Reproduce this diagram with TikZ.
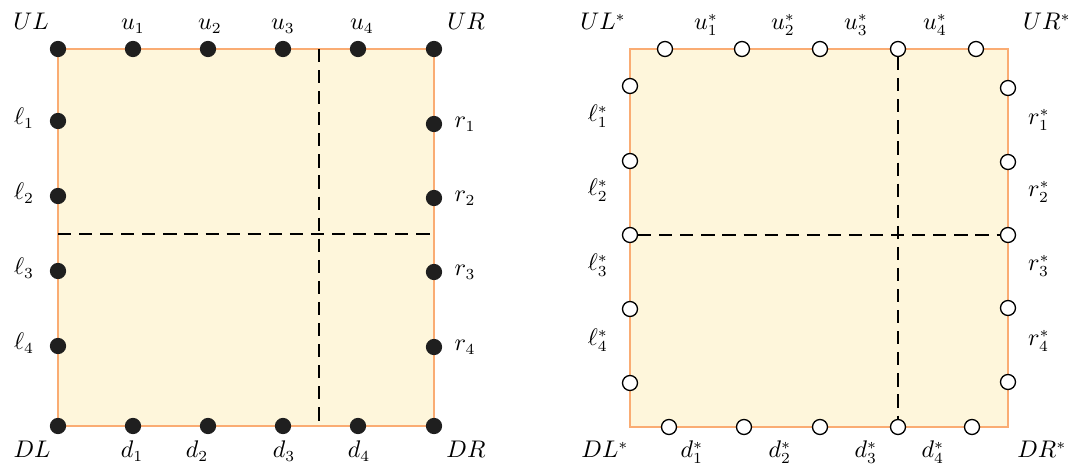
\documentclass[tikz,border=0pt]{standalone}
\definecolor{boxfill}{RGB}{254,246,219}
\definecolor{boxedge}{RGB}{250,172,115}
\begin{document}
\begin{tikzpicture}[x=0.016cm,y=-0.016cm,
  filled/.style={circle,fill=black!88,inner sep=0pt,minimum size=0.26cm},
  hollow/.style={circle,draw=black,fill=white,line width=0.6pt,inner sep=0pt,minimum size=0.24cm},
  lbl/.style={anchor=base,inner sep=0pt,font=\fontsize{10.6}{12}\selectfont},
  dline/.style={line width=0.9pt,dash pattern=on 6pt off 3.6pt},
  boxline/.style={draw=boxedge,fill=boxfill,line width=0.6pt}]
\useasboundingbox (0,0) rectangle (1072,464);
% ---------- left square ----------
\path[boxline] (58,49) rectangle (434,426);
\coordinate (vt) at (319,49);
\coordinate (vb) at (319,426);
\coordinate (hl) at (58,234);
\coordinate (hr) at (436,234);
\draw[dline] (vt) -- (vb);
\draw[dline] (hl) -- (hr);
% dots
\node[filled] (UL) at (58,49) {};
\node[filled] (u1) at (133,49) {};
\node[filled] (u2) at (208,49) {};
\node[filled] (u3) at (283,49) {};
\node[filled] (u4) at (358,49) {};
\node[filled] (UR) at (434,49) {};
\node[filled] (l1) at (58,121) {};
\node[filled] (l2) at (58,196) {};
\node[filled] (l3) at (58,271) {};
\node[filled] (l4) at (58,346) {};
\node[filled] (r1) at (434,124) {};
\node[filled] (r2) at (434,198) {};
\node[filled] (r3) at (434,272) {};
\node[filled] (r4) at (434,347) {};
\node[filled] (DL) at (58,426) {};
\node[filled] (d1) at (133,426) {};
\node[filled] (d2) at (208,426) {};
\node[filled] (d3) at (283,426) {};
\node[filled] (d4) at (358,426) {};
\node[filled] (DR) at (434,426) {};
% labels
\node[lbl] (tUL) at (31,30) {$UL$};
\node[lbl] (tu1) at (133,30) {$u_1$};
\node[lbl] (tu2) at (210,30) {$u_2$};
\node[lbl] (tu3) at (283,30) {$u_3$};
\node[lbl] (tu4) at (362,30) {$u_4$};
\node[lbl] (tUR) at (466,30) {$UR$};
\node[lbl] (tl1) at (24,125) {$\ell_1$};
\node[lbl] (tl2) at (24,200) {$\ell_2$};
\node[lbl] (tl3) at (24,275) {$\ell_3$};
\node[lbl] (tl4) at (24,350) {$\ell_4$};
\node[lbl] (tr1) at (465,128) {$r_1$};
\node[lbl] (tr2) at (465,202) {$r_2$};
\node[lbl] (tr3) at (465,276) {$r_3$};
\node[lbl] (tr4) at (465,351) {$r_4$};
\node[lbl] (tDL) at (32,458) {$DL$};
\node[lbl] (td1) at (132,458) {$d_1$};
\node[lbl] (td2) at (197,458) {$d_2$};
\node[lbl] (td3) at (284,458) {$d_3$};
\node[lbl] (td4) at (359,458) {$d_4$};
\node[lbl] (tDR) at (466,458) {$DR$};
% ---------- right square ----------
\path[boxline] (630,49) rectangle (1008,427);
\node[hollow] (su1) at (665,49) {};
\node[hollow] (su2) at (742,49) {};
\node[hollow] (su3) at (820,49) {};
\node[hollow] (su4) at (898,49) {};
\node[hollow] (su5) at (976,49) {};
\node[hollow] (sd1) at (669,427) {};
\node[hollow] (sd2) at (744,427) {};
\node[hollow] (sd3) at (820,427) {};
\node[hollow] (sd4) at (898,427) {};
\node[hollow] (sd5) at (972,427) {};
\node[hollow] (sl1) at (630,86) {};
\node[hollow] (sl2) at (630,161) {};
\node[hollow] (sl3) at (630,235) {};
\node[hollow] (sl4) at (630,309) {};
\node[hollow] (sl5) at (630,383) {};
\node[hollow] (sr1) at (1008,88) {};
\node[hollow] (sr2) at (1008,162) {};
\node[hollow] (sr3) at (1008,235) {};
\node[hollow] (sr4) at (1008,308) {};
\node[hollow] (sr5) at (1008,382) {};
\draw[dline] (su4) -- (sd4);
\draw[dline] (sl3) -- (sr3);
% labels
\node[lbl] (sUL) at (603,30) {$UL^*$};
\node[lbl] (tsu1) at (706,30) {$u_1^*$};
\node[lbl] (tsu2) at (783,30) {$u_2^*$};
\node[lbl] (tsu3) at (856,30) {$u_3^*$};
\node[lbl] (tsu4) at (935,30) {$u_4^*$};
\node[lbl] (sUR) at (1047,30) {$UR^*$};
\node[lbl] (tsl1) at (598,122) {$\ell_1^*$};
\node[lbl] (tsl2) at (598,196) {$\ell_2^*$};
\node[lbl] (tsl3) at (598,271) {$\ell_3^*$};
\node[lbl] (tsl4) at (598,346) {$\ell_4^*$};
\node[lbl] (tsr1) at (1039,125) {$r_1^*$};
\node[lbl] (tsr2) at (1039,197) {$r_2^*$};
\node[lbl] (tsr3) at (1039,271) {$r_3^*$};
\node[lbl] (tsr4) at (1039,346) {$r_4^*$};
\node[lbl] (sDL) at (605,458) {$DL^*$};
\node[lbl] (tsd1) at (692,458) {$d_1^*$};
\node[lbl] (tsd2) at (780,458) {$d_2^*$};
\node[lbl] (tsd3) at (866,458) {$d_3^*$};
\node[lbl] (tsd4) at (933,458) {$d_4^*$};
\node[lbl] (sDR) at (1042,458) {$DR^*$};
\end{tikzpicture}
\end{document}
